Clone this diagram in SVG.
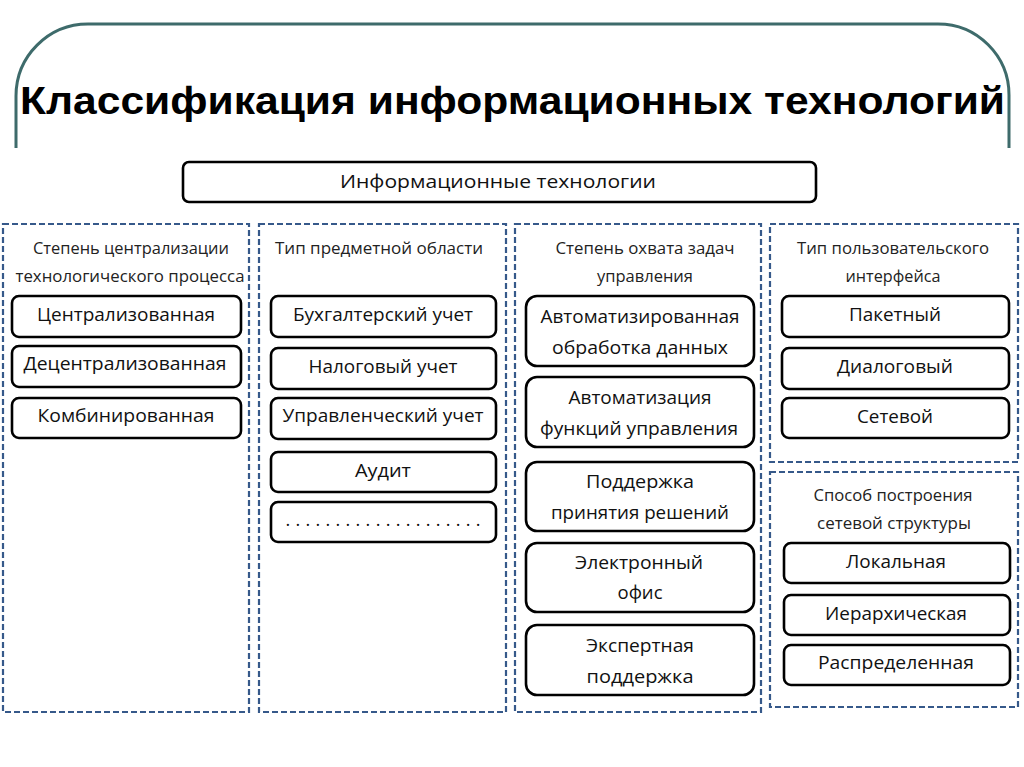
<svg xmlns="http://www.w3.org/2000/svg" width="1024" height="767" viewBox="0 0 1024 767">
<style>
.frame{fill:none;stroke:#3e6b6b;stroke-width:3}
.grp{fill:none;stroke:#36598a;stroke-width:2.2;stroke-dasharray:6 3}
.node{fill:#fff;stroke:#000;stroke-width:2.6}
.t{font-family:"Open Sans","Liberation Sans",sans-serif;font-size:18px;fill:#111;text-anchor:middle}
.h{font-family:"Open Sans","Liberation Sans",sans-serif;font-size:15.5px;fill:#222;text-anchor:middle}
.title{font-family:"Liberation Sans",Arial,sans-serif;font-size:39px;font-weight:bold;fill:#000}
</style>
<rect width="1024" height="767" fill="#fff"/>
<path class="frame" d="M16,148 V96 A72,72 0 0 1 88,24 H938 A71,71 0 0 1 1009,95 V148"/>
<text class="title" x="20" y="114" textLength="985" lengthAdjust="spacingAndGlyphs">Классификация информационных технологий</text>

<g id="root">
<rect class="node" x="183" y="162" width="633" height="40" rx="6"/>
<text class="t" x="498" y="188" textLength="316" lengthAdjust="spacingAndGlyphs">Информационные технологии</text>
</g>

<g id="connectors"></g>

<g id="col1">
<rect class="grp" x="3" y="224" width="246" height="488"/>
<text class="h" x="131" y="254" textLength="196" lengthAdjust="spacingAndGlyphs">Степень централизации</text>
<text class="h" x="130" y="282" textLength="229" lengthAdjust="spacingAndGlyphs">технологического процесса</text>
</g>
<g id="n-centr"><rect class="node" x="12" y="296" width="229" height="41" rx="7"/><text class="t" x="126" y="321" textLength="178" lengthAdjust="spacingAndGlyphs">Централизованная</text></g>
<g id="n-decentr"><rect class="node" x="12" y="346" width="229" height="41" rx="7"/><text class="t" x="125" y="370" textLength="203" lengthAdjust="spacingAndGlyphs">Децентрализованная</text></g>
<g id="n-comb"><rect class="node" x="12" y="398" width="229" height="40" rx="7"/><text class="t" x="126" y="422" textLength="177" lengthAdjust="spacingAndGlyphs">Комбинированная</text></g>

<g id="col2">
<rect class="grp" x="259" y="224" width="247" height="488"/>
<text class="h" x="379" y="254" textLength="208" lengthAdjust="spacingAndGlyphs">Тип предметной области</text>
</g>
<g id="n-buh"><rect class="node" x="271" y="296" width="225" height="41" rx="7"/><text class="t" x="383" y="321" textLength="180" lengthAdjust="spacingAndGlyphs">Бухгалтерский учет</text></g>
<g id="n-nalog"><rect class="node" x="271" y="348" width="225" height="41" rx="7"/><text class="t" x="383" y="373" textLength="149" lengthAdjust="spacingAndGlyphs">Налоговый учет</text></g>
<g id="n-upr"><rect class="node" x="271" y="398" width="225" height="41" rx="7"/><text class="t" x="383" y="422" textLength="201" lengthAdjust="spacingAndGlyphs">Управленческий учет</text></g>
<g id="n-audit"><rect class="node" x="271" y="452" width="225" height="40" rx="7"/><text class="t" x="383" y="477" textLength="56" lengthAdjust="spacingAndGlyphs">Аудит</text></g>
<g id="n-dots"><rect class="node" x="271" y="502" width="225" height="40" rx="7"/><text class="t" x="383" y="526" textLength="195" lengthAdjust="spacing">. . . . . . . . . . . . . . . . . . . .</text></g>

<g id="col3">
<rect class="grp" x="515" y="224" width="246" height="488"/>
<text class="h" x="645" y="254" textLength="179" lengthAdjust="spacingAndGlyphs">Степень охвата задач</text>
<text class="h" x="645" y="282" textLength="96" lengthAdjust="spacingAndGlyphs">управления</text>
</g>
<g id="n-aod"><rect class="node" x="526" y="296" width="228" height="70" rx="11"/><text class="t" x="640" y="323" textLength="199" lengthAdjust="spacingAndGlyphs">Автоматизированная</text><text class="t" x="640" y="354" textLength="176" lengthAdjust="spacingAndGlyphs">обработка данных</text></g>
<g id="n-afu"><rect class="node" x="526" y="377" width="228" height="70" rx="11"/><text class="t" x="640" y="404" textLength="143" lengthAdjust="spacingAndGlyphs">Автоматизация</text><text class="t" x="639" y="435" textLength="198" lengthAdjust="spacingAndGlyphs">функций управления</text></g>
<g id="n-ppr"><rect class="node" x="526" y="462" width="228" height="69" rx="11"/><text class="t" x="640" y="488" textLength="108" lengthAdjust="spacingAndGlyphs">Поддержка</text><text class="t" x="640" y="519" textLength="178" lengthAdjust="spacingAndGlyphs">принятия решений</text></g>
<g id="n-eo"><rect class="node" x="526" y="543" width="228" height="69" rx="11"/><text class="t" x="639" y="569" textLength="128" lengthAdjust="spacingAndGlyphs">Электронный</text><text class="t" x="640" y="599" textLength="45" lengthAdjust="spacingAndGlyphs">офис</text></g>
<g id="n-ep"><rect class="node" x="526" y="625" width="228" height="70" rx="11"/><text class="t" x="640" y="652" textLength="108" lengthAdjust="spacingAndGlyphs">Экспертная</text><text class="t" x="640" y="683" textLength="107" lengthAdjust="spacingAndGlyphs">поддержка</text></g>

<g id="col4a">
<rect class="grp" x="770" y="224" width="248" height="238"/>
<text class="h" x="893" y="254" textLength="192" lengthAdjust="spacingAndGlyphs">Тип пользовательского</text>
<text class="h" x="893" y="282" textLength="95" lengthAdjust="spacingAndGlyphs">интерфейса</text>
</g>
<g id="n-paket"><rect class="node" x="782" y="296" width="227" height="41" rx="7"/><text class="t" x="895" y="321" textLength="92" lengthAdjust="spacingAndGlyphs">Пакетный</text></g>
<g id="n-dialog"><rect class="node" x="782" y="348" width="227" height="41" rx="7"/><text class="t" x="895" y="373" textLength="116" lengthAdjust="spacingAndGlyphs">Диалоговый</text></g>
<g id="n-set"><rect class="node" x="782" y="398" width="227" height="40" rx="7"/><text class="t" x="895" y="423" textLength="76" lengthAdjust="spacingAndGlyphs">Сетевой</text></g>

<g id="col4b">
<rect class="grp" x="770" y="472" width="248" height="235"/>
<text class="h" x="893" y="501" textLength="159" lengthAdjust="spacingAndGlyphs">Способ построения</text>
<text class="h" x="894" y="529" textLength="154" lengthAdjust="spacingAndGlyphs">сетевой структуры</text>
</g>
<g id="n-lok"><rect class="node" x="784" y="543" width="226" height="40" rx="7"/><text class="t" x="896" y="568" textLength="100" lengthAdjust="spacingAndGlyphs">Локальная</text></g>
<g id="n-ier"><rect class="node" x="784" y="595" width="226" height="40" rx="7"/><text class="t" x="896" y="620" textLength="142" lengthAdjust="spacingAndGlyphs">Иерархическая</text></g>
<g id="n-raspr"><rect class="node" x="784" y="645" width="226" height="40" rx="7"/><text class="t" x="896" y="669" textLength="156" lengthAdjust="spacingAndGlyphs">Распределенная</text></g>
</svg>
